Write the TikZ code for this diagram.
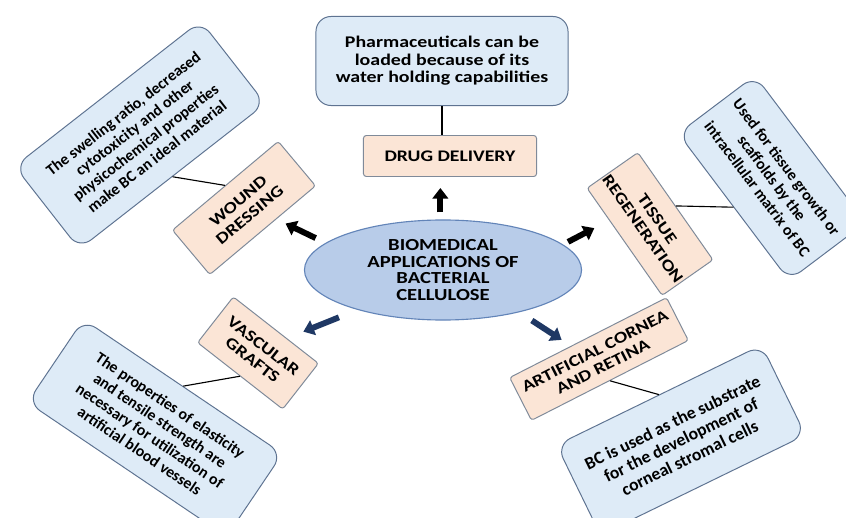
\documentclass[tikz,border=0pt]{standalone}
\usepackage{fontspec}
\setmainfont{Carlito}
\newfontfamily\widefont{Carlito}[FakeStretch=1.22]
\usetikzlibrary{arrows.meta}
\usetikzlibrary{shapes.geometric}
\definecolor{notefill}{HTML}{DEEBF7}
\definecolor{noteline}{HTML}{5E7391}
\definecolor{tagfill}{HTML}{FBE5D6}
\definecolor{tagline}{HTML}{7F8A99}
\definecolor{hubfill}{HTML}{B8CCE9}
\definecolor{hubline}{HTML}{6284B8}
\definecolor{navy}{HTML}{1F3864}
\tikzset{note/.style = {draw=noteline, fill=notefill, line width=0.7pt, rounded corners=0.375cm, align=center, inner sep=1pt,
                        font=\bfseries\fontsize{11.3}{13}\selectfont}}
\tikzset{tag/.style = {draw=tagline, fill=tagfill, line width=0.7pt, rounded corners=2pt, align=center, inner sep=1pt,
                       font=\widefont\bfseries\fontsize{11.5}{12.6}\selectfont}}
\tikzset{hub/.style = {ellipse, draw=hubline, fill=hubfill, line width=0.8pt, align=center, inner sep=0pt,
                       font=\widefont\bfseries\fontsize{12}{12}\selectfont}}
\tikzset{arr/.style = {line width=4.2pt, -{Triangle[length=7.5pt, width=11pt]}}}
\tikzset{link/.style = {line width=0.8pt}}

\begin{document}
\begin{tikzpicture}[x=0.025cm, y=-0.025cm]
    \useasboundingbox (0,0) rectangle (846,518);
    \clip (0,0) rectangle (846,518);

    \node [note, minimum width=6.3cm, minimum height=2.225cm, font=\widefont\bfseries\fontsize{11.6}{12.4}\selectfont] (dtext) at (442,61)
          {Pharmaceuticals can be\\loaded because of its\\water holding capabilities};
    \node [tag, minimum width=4.325cm, minimum height=1.025cm] (drug) at (450,156) {DRUG DELIVERY};
    \node [hub, minimum width=6.925cm, minimum height=2.5cm] (bio) at (443,270)
          {BIOMEDICAL\\APPLICATIONS OF\\BACTERIAL\\CELLULOSE};

    \node [tag, rotate=40, minimum width=3.45cm, minimum height=1.45cm] (wbox) at (244,208) {WOUND\\DRESSING};
    \node [note, rotate=38, minimum width=5.9cm, minimum height=2.625cm] (wtext) at (140,135)
          {The swelling ratio, decreased\\cytotoxicity and other\\physicochemical properties\\make BC an ideal material};

    \node [tag, rotate=-55, minimum width=2.85cm, minimum height=1.55cm] (tbox) at (650,224) {TISSUE\\REGENERATION};
    \node [note, rotate=-53, minimum width=4.6cm, minimum height=2.4cm] (ttext) at (772,178)
          {Used for tissue growth or\\scaffolds by the\\intracellular matrix of BC};

    \node [tag, rotate=-38, minimum width=2.7cm, minimum height=1.45cm] (vbox) at (258,353) {VASCULAR\\GRAFTS};
    \node [note, rotate=-34, minimum width=6cm, minimum height=2.5cm] (vtext) at (155,428)
          {The properties of elasticity\\and tensile strength are\\necessary for utilization of\\artificial blood vessels};

    \node [tag, rotate=27, minimum width=4.4cm, minimum height=1.2cm] (cbox) at (599,359) {ARTIFICIAL CORNEA\\AND RETINA};
    \node [note, rotate=26, minimum width=5.7cm, minimum height=2.5cm, font=\bfseries\fontsize{12.5}{14}\selectfont] (ctext) at (681,440)
          {BC is used as the substrate\\for the development of\\corneal stromal cells};

    \draw [link] (dtext.south) -- (dtext.south |- drug.north);
    \draw [link] (wtext.south) -- (wbox.north);
    \draw [link] (ttext.south) -- (tbox.north);
    \draw [link] (vtext.north) -- (vbox.south);
    \draw [link] (cbox.south) -- (ctext.north);

    \draw [arr, shorten <=0.175cm, shorten >=0.275cm] (bio.93) -- (bio.93 |- drug.south);
    \draw [arr, shorten <=0.275cm, shorten >=0.25cm] (bio.167) -- (wbox.301);
    \draw [arr, shorten <=0.14cm, shorten >=0.415cm] (bio.12) -- (tbox.230);
    \draw [arr, navy, shorten <=0.5cm, shorten >=0.44cm] (bio.205) -- (vbox.65);
    \draw [arr, navy, shorten <=0.375cm, shorten >=0.275cm] (bio.331) -- (cbox.128);
\end{tikzpicture}
\end{document}
